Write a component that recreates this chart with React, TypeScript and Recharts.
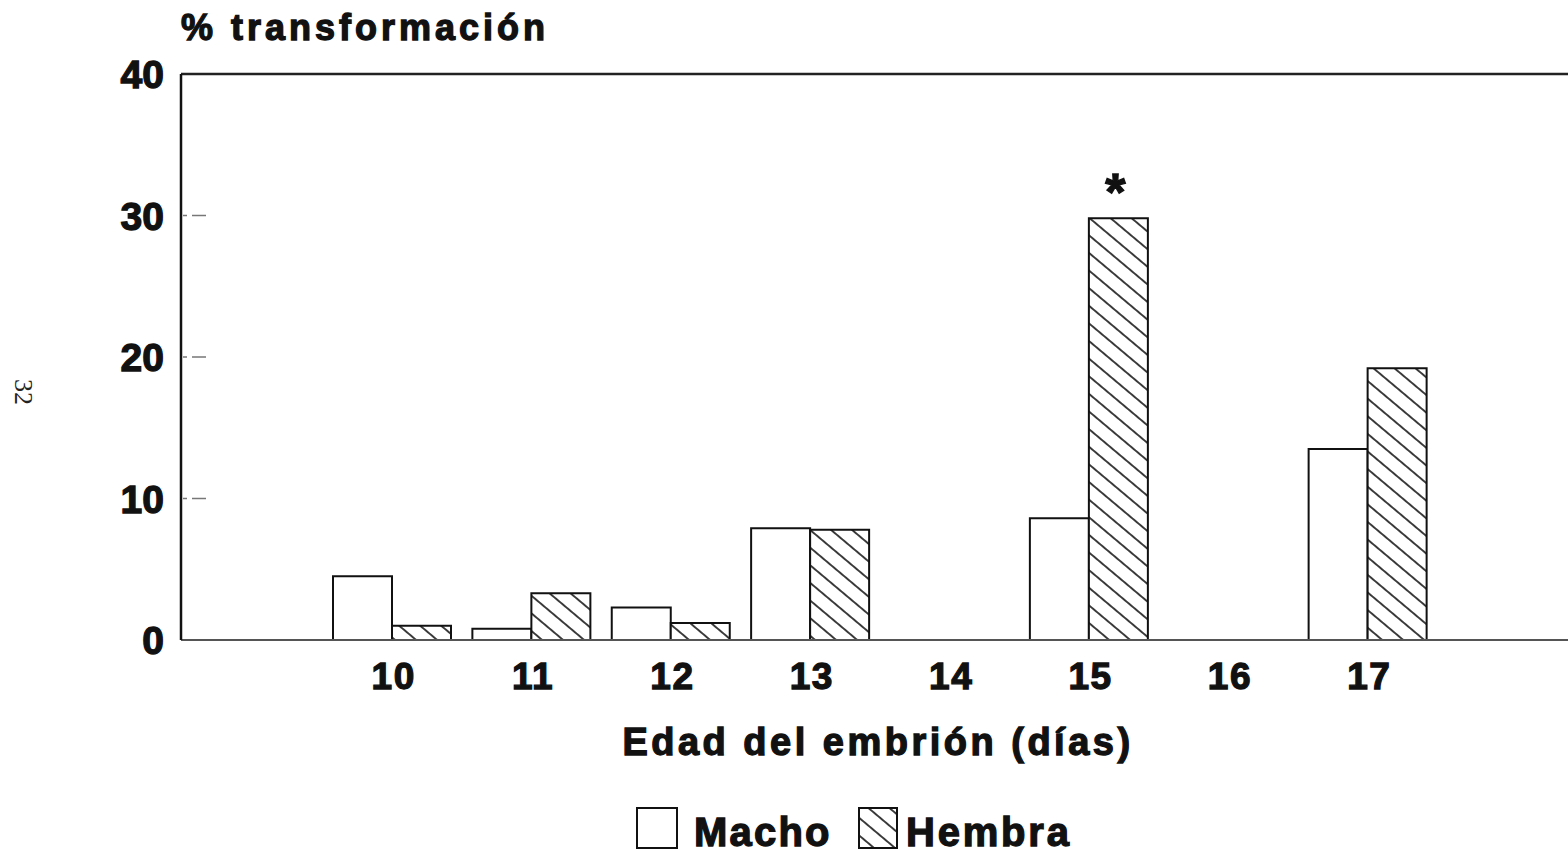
import React from 'react';
import { BarChart, Bar, XAxis, YAxis, ReferenceLine, LabelList, Label } from 'recharts';

// embryo age in days, % transformation per sex
const days = ['10', '11', '12', '13', '14', '15', '16', '17'];
const macho = [4.5, 0.8, 2.3, 7.9, 0, 8.6, 0, 13.5];
const hembra = [1.0, 3.3, 1.2, 7.8, 0, 29.8, 0, 19.2];
const marks = ['', '', '', '', '', '*', '', ''];
const yTicks = [0, 10, 20, 30, 40];

const data = days.map((d, i) => ({ day: d, macho: macho[i], hembra: hembra[i], mark: marks[i] }));

const FONT = '"Liberation Sans", Arial, Helvetica, sans-serif';
// the printed font is heavier than any bold we have, so thicken glyphs with a stroke
const heavy = { fontWeight: 700, fill: '#111', stroke: '#111', strokeWidth: 1.3, fontFamily: FONT } as const;

const YTick = (props: any) => {
  const { x, y, payload } = props;
  const v = payload.value;
  return (
    <g>
      <text x={x - 17} y={y + 14} textAnchor="end" fontSize={39} {...heavy}>
        {v}
      </text>
      {v > 0 && v < 40 && (
        <line x1={x + 2} x2={x + 28} y1={y} y2={y} stroke="#777" strokeWidth={1.3} strokeDasharray="4 5 14 20" />
      )}
    </g>
  );
};

const XTick = (props: any) => {
  const { x, y, payload } = props;
  return (
    <text x={x + 2} y={y + 49} textAnchor="middle" fontSize={37} letterSpacing={1.5} {...heavy}>
      {payload.value}
    </text>
  );
};

const Star = (props: any) => {
  const { x, y, width, value } = props;
  if (!value) return null;
  return (
    <text x={x + width / 2 - 3} y={y - 8} textAnchor="middle" fontSize={52} {...heavy}>
      {value}
    </text>
  );
};

export default function App() {
  return (
    <div style={{ position: 'fixed', left: 0, top: 0, width: 1568, height: 853, overflow: 'hidden', background: '#fff' }}>
      <BarChart
        width={1580}
        height={853}
        data={data}
        margin={{ top: 74, right: 5, left: 0, bottom: 0 }}
        barCategoryGap={11}
        barGap={0}
      >
        <defs>
          <pattern id="hatch" patternUnits="userSpaceOnUse" width={14} height={13.5} patternTransform="rotate(40)">
            <rect width={14} height={13.5} fill="#fff" />
            <line x1={0} y1={6.75} x2={14} y2={6.75} stroke="#111" strokeWidth={1.6} />
          </pattern>
        </defs>
        <XAxis
          dataKey="day"
          height={213}
          padding={{ left: 141, right: 138 }}
          tickLine={false}
          tickSize={0}
          tickMargin={0}
          axisLine={{ stroke: '#555', strokeWidth: 2 }}
          tick={<XTick />}
        >
          <Label
            value="Edad del embrión (días)"
            position="insideTop"
            offset={88}
            fontSize={38}
            letterSpacing={3.5}
            {...heavy}
          />
        </XAxis>
        <YAxis
          width={181}
          domain={[0, 40]}
          ticks={yTicks}
          tickLine={false}
          tickSize={0}
          tickMargin={0}
          axisLine={{ stroke: '#111', strokeWidth: 2.5 }}
          tick={<YTick />}
        />
        <ReferenceLine y={40} stroke="#222" strokeWidth={2.5} />
        <Bar dataKey="macho" fill="#fff" stroke="#111" strokeWidth={2} isAnimationActive={false} />
        <Bar dataKey="hembra" fill="url(#hatch)" stroke="#111" strokeWidth={2} isAnimationActive={false}>
          <LabelList dataKey="mark" content={<Star />} />
        </Bar>
      </BarChart>

      <svg width={1568} height={853} style={{ position: 'absolute', left: 0, top: 0, pointerEvents: 'none' }}>
        <text x={181} y={40} fontSize={36} letterSpacing={4} {...heavy}>
          % transformación
        </text>
        <text
          transform="translate(15, 392) rotate(90)"
          textAnchor="middle"
          fontSize={26}
          fill="#222"
          fontFamily='"Liberation Serif", serif'
        >
          32
        </text>
        {/* legend */}
        <rect x={637} y={808} width={40} height={40} fill="#fff" stroke="#111" strokeWidth={2} />
        <text x={694} y={846} fontSize={40} letterSpacing={2.2} {...heavy}>
          Macho
        </text>
        <rect x={859} y={808} width={38} height={40} fill="url(#hatch)" stroke="#111" strokeWidth={2} />
        <text x={906} y={846} fontSize={40} letterSpacing={2.8} {...heavy}>
          Hembra
        </text>
      </svg>
    </div>
  );
}
